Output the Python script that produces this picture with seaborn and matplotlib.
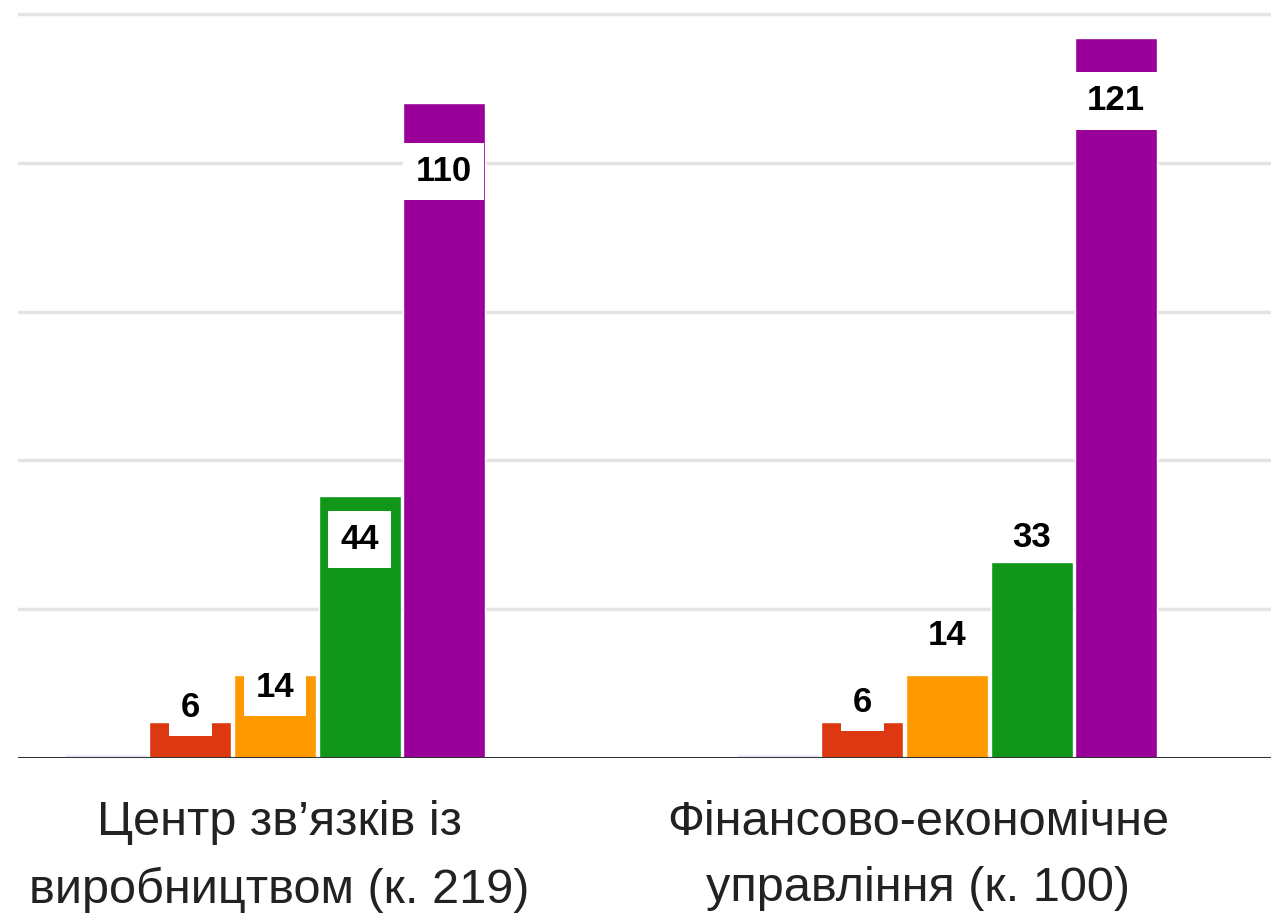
import matplotlib
matplotlib.use('Agg')
import matplotlib.pyplot as plt
import seaborn as sns
import pandas as pd

# data
groups = ['Центр зв’язків із\nвиробництвом (к. 219)',
          'Фінансово-економічне\nуправління (к. 100)']
ratings = ['1', '2', '3', '4', '5']
values = [
    [0.6, 6, 14, 44, 110],
    [0.6, 6, 14, 33, 121],
]
labels = [
    ['', '6', '14', '44', '110'],
    ['', '6', '14', '33', '121'],
]

# label placement (points from bar top) and whether the white box is shown
offsets = [
    [0, 10.8, -9.4, -31, -49],
    [0, 14.4, 28, 17.3, -45.4],
]
boxed = [
    [False, True, True, True, True],
    [False, True, False, False, True],
]
palette = ['#e6ecf7', '#dc3912', '#ff9900', '#109618', '#990099']

rows = []
for g, vals in zip(groups, values):
    for r, v in zip(ratings, vals):
        rows.append({'group': g, 'rating': r, 'value': v})
df = pd.DataFrame(rows)

sns.set_style('white')
plt.rcParams['font.family'] = ['Liberation Sans', 'DejaVu Sans']

fig = plt.figure(figsize=(12.71, 9.13), dpi=100)
H = 913
px_per_unit = 744 / 125
ymax = 126
top_px = 758 - ymax * px_per_unit
ax = fig.add_axes([18 / 1271, 1 - 758 / H, 1 - 18 / 1271, (758 - top_px) / H])

sns.barplot(data=df, x='group', y='value', hue='rating', order=groups,
            hue_order=ratings, palette=palette, width=0.629, gap=0.03,
            saturation=1, legend=False, ax=ax, zorder=2)

ax.set_xlim(-257 / 672, 996 / 672)
ax.set_ylim(0, ymax)
ax.set_yticks([25, 50, 75, 100, 125])
ax.set_yticklabels([])
ax.yaxis.grid(True, color='#e4e4e4', linewidth=2.5, zorder=0)
ax.set_axisbelow(True)
ax.axhline(0, color='#333333', linewidth=2.2, zorder=3)
for s in ax.spines.values():
    s.set_visible(False)
ax.tick_params(axis='both', length=0)

# category labels sit a little off the bar-group centres, as in the original
ax.set_xticks([0.006, 0.957])
ax.set_xticklabels(groups)
ax.tick_params(axis='x', pad=30)
ax.set_xlabel('')
ax.set_ylabel('')
for t in ax.get_xticklabels():
    t.set_fontsize(35)
    t.set_color('#222222')
    t.set_linespacing(1.6)

for hi, cont in enumerate(ax.containers):
    for gi, bar in enumerate(cont):
        txt = labels[gi][hi]
        if not txt:
            continue
        bbox = None
        if boxed[gi][hi]:
            bbox = dict(boxstyle='square,pad=0.35', fc='white', ec='none')
        ax.annotate(txt, xy=(bar.get_x() + bar.get_width() / 2, bar.get_height()),
                    xytext=(0, offsets[gi][hi]), textcoords='offset points',
                    ha='center', va='center', fontsize=25, fontweight='bold',
                    color='black', bbox=bbox, zorder=5)

fig.savefig('out.png', dpi=100)
